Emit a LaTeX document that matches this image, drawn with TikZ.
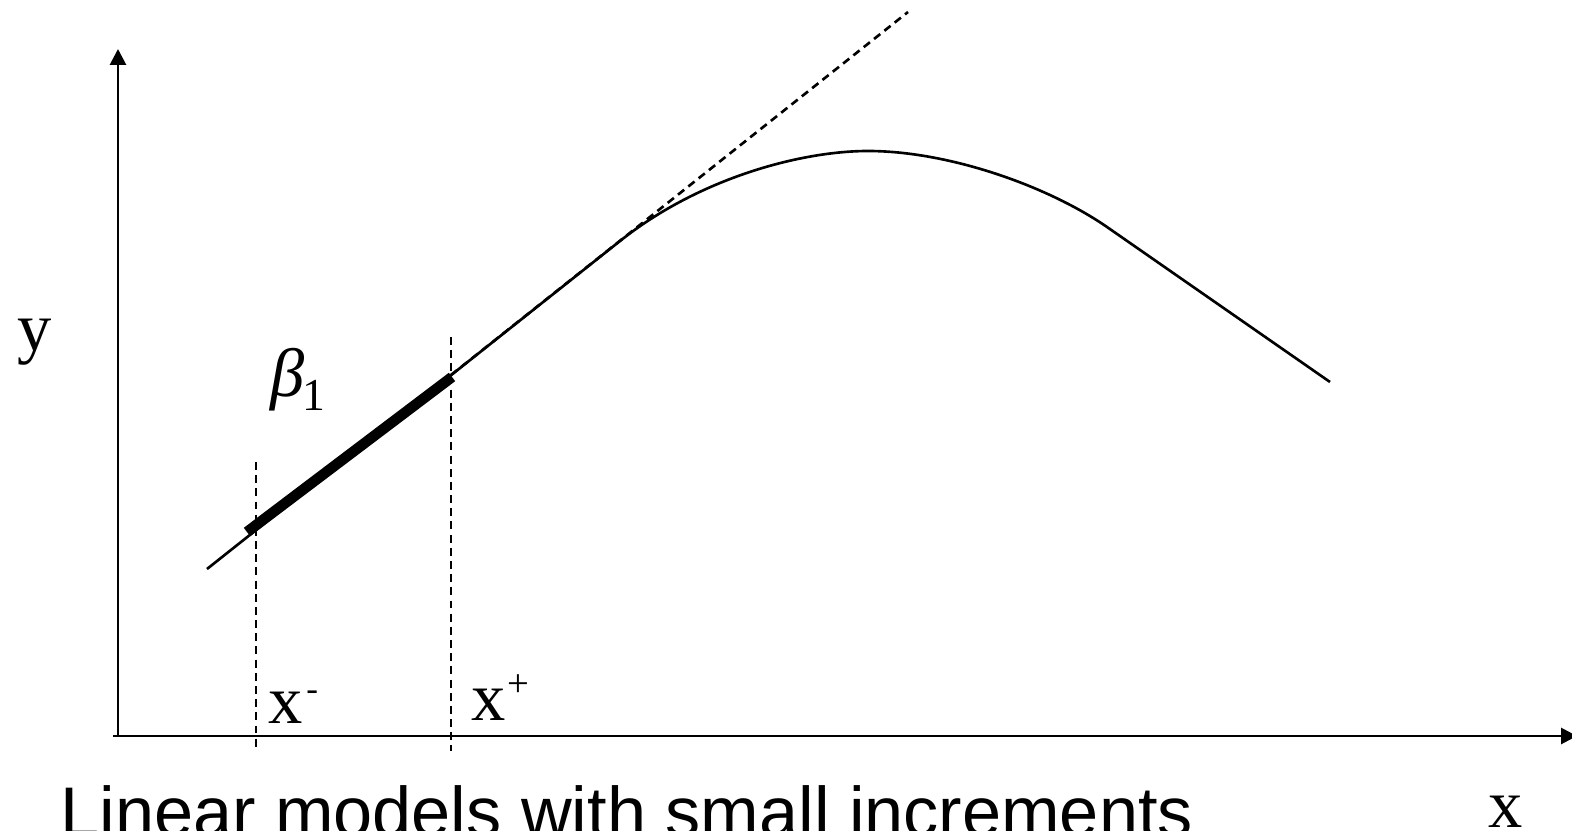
\documentclass[tikz,border=0pt]{standalone}
\usepackage{fontspec}
\setmainfont{Liberation Serif}
\newfontfamily\labelsans{Liberation Sans}
\usetikzlibrary{arrows.meta}
\tikzset{
  axisline/.style={line width=1.6pt,-{Triangle[length=0.32cm,width=0.32cm]}},
  curveline/.style={line width=1.5pt,line join=round},
  guide/.style={line width=1.5pt,dash pattern=on 4.5pt off 3pt},
  slopebar/.style={line width=6pt},
  lbl/.style={inner sep=0pt,anchor=base west,font=\fontsize{39}{45}\selectfont}
}
\begin{document}
\begin{tikzpicture}[x=0.02cm,y=-0.02cm]
\useasboundingbox (0,0) rectangle (1572,831);
% axes
\coordinate (o) at (118,736);
\coordinate (ytip) at (118,49);
\coordinate (xstart) at (113,736);
\coordinate (xtip) at (1577,736);
\draw[axisline] (o) -- (ytip);
\draw[axisline] (xstart) -- (xtip);
% vertical guides
\coordinate (xm top) at (256,462);
\coordinate (xm bot) at (256,751);
\coordinate (xp top) at (451,337);
\coordinate (xp bot) at (451,751);
\draw[guide] (xm top) -- (xm bot);
\draw[guide] (xp top) -- (xp bot);
% tangent line
\coordinate (t0) at (451,375);
\coordinate (t1) at (908,12);
\draw[guide] (t0) -- (t1);
% curve
\coordinate (c0) at (207,569);
\coordinate (c1) at (620,241);
\coordinate (peak) at (868,151);
\coordinate (c3) at (1107,227);
\coordinate (c4) at (1330,382);
\draw[curveline] (c0) -- (c1)
  .. controls (700,177.4) and (802,151) .. (peak)
  .. controls (948,151) and (1047,185.6) .. (c3)
  -- (c4);
% thick slope segment
\coordinate (s0) at (247,532);
\coordinate (s1) at (452,377);
\draw[slopebar] (s0) -- (s1);
% labels
\node[lbl] (ylab) at (17,350) {y};
\node[lbl] (xlab) at (1488,827) {x};
\node[lbl] (beta) at (270,396) {\itshape β};
\node[inner sep=0pt,anchor=base west,font=\fontsize{26}{30}\selectfont] (one) at (302,410) {1};
\node[lbl] (xm) at (268,723) {x};
\node[inner sep=0pt,anchor=base west,font=\fontsize{20}{24}\selectfont] (xmsup) at (306,700) {-};
\node[lbl] (xp) at (471,720) {x};
\node[inner sep=0pt,anchor=base west,font=\fontsize{22}{26}\selectfont] (xpsup) at (507,696) {+};
\node[inner sep=0pt,anchor=base west,font=\labelsans\fontsize{40}{46}\selectfont] (caption) at (60,836) {Linear models with small increments};
\end{tikzpicture}
\end{document}
